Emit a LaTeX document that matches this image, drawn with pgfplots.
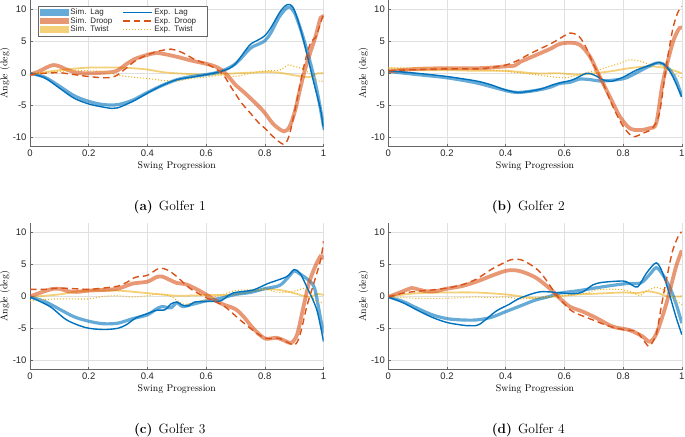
\documentclass[border=0pt]{standalone}
\usepackage{fontspec}
\setsansfont{Liberation Sans}
\usepackage{pgfplots}
\pgfplotsset{compat=1.18}
\definecolor{mblue}{rgb}{0,0.447,0.741}
\definecolor{mred}{rgb}{0.85,0.325,0.098}
\definecolor{myellow}{rgb}{0.929,0.694,0.125}
\definecolor{axgray}{rgb}{0.4,0.4,0.4}
\definecolor{grgray}{rgb}{0.88,0.88,0.88}
\pgfplotsset{
  golfer/.style={
    scale only axis, width=293.5bp, height=146.7bp,
    xmin=0, xmax=1, ymin=-11.5, ymax=11.5,
    xtick={0,0.2,0.4,0.6,0.8,1}, ytick={-10,-5,0,5,10},
    axis lines=left, axis line style={-, draw=axgray, line width=0.5bp},
    tick style={draw=axgray, line width=0.5bp}, tick align=inside, major tick length=2.5bp,
    grid=major, grid style={draw=grgray, line width=0.5bp},
    ticklabel style={font=\sffamily\fontsize{9.5bp}{10bp}\selectfont, text=black!85},
    /pgf/number format/assume math mode=true,
    xlabel={Swing Progression}, ylabel={Angle (deg)},
    label style={font=\fontsize{9.8bp}{11bp}\selectfont},
    xlabel style={at={(axis description cs:0.5,-0.1295)}, anchor=center},
    ylabel style={at={(axis description cs:-0.0852,0.5)}, anchor=center},
  },
  simlag/.style={color=mblue, opacity=0.6, line width=3.2bp, smooth, forget plot},
  simdroop/.style={color=mred, opacity=0.6, line width=3.8bp, smooth, forget plot},
  simtwist/.style={color=myellow, opacity=0.6, line width=1.8bp, smooth, forget plot},
  explag/.style={color=mblue, line width=1.4bp, smooth, forget plot},
  expdroop/.style={color=mred, line width=1.4bp, dash pattern=on 6.5bp off 4bp, smooth, forget plot},
  exptwist/.style={color=myellow, line width=1.1bp, dash pattern=on 1bp off 2bp, smooth, forget plot},
  simleg/.style={legend image code/.code={\fill[##1, draw=none] (0bp,-3.2bp) rectangle (28.6bp,3.2bp);}},
  expleg/.style={legend image code/.code={\draw[##1] (0bp,0bp) -- (29bp,0bp);}},
}
\newcommand{\subcap}[1]{\fontsize{13.5bp}{16bp}\selectfont #1}
\begin{document}
\begin{tikzpicture}[x=1bp,y=1bp]
\path[use as bounding box] (0,0) rectangle (685,437);

% ---------------- Golfer 1
\begin{axis}[golfer, at={(30bp,290.3bp)}, anchor=south west,
  legend columns=2, legend cell align=left,
  legend style={at={(axis description cs:0.026,0.959)}, anchor=north west,
    draw=axgray, line width=0.5bp, fill=white, text=black!85,
    font=\sffamily\fontsize{8bp}{9bp}\selectfont,
    inner xsep=2.5bp, inner ysep=2bp, row sep=0bp,
    nodes={inner xsep=1.5bp, inner ysep=0bp, text height=6.5bp, text depth=2bp},
    /tikz/column 2/.style={text width=42bp, column sep=8.5bp},
    /tikz/column 4/.style={text width=48.5bp}}]
\addlegendimage{color=mblue, opacity=0.6, simleg}\addlegendentry{Sim. Lag}
\addlegendimage{color=mblue, line width=1.4bp, expleg}\addlegendentry{Exp. Lag}
\addlegendimage{color=mred, opacity=0.6, simleg}\addlegendentry{Sim. Droop}
\addlegendimage{color=mred, line width=1.4bp, dash pattern=on 6.5bp off 4bp, expleg}\addlegendentry{Exp. Droop}
\addlegendimage{color=myellow, opacity=0.6, simleg}\addlegendentry{Sim. Twist}
\addlegendimage{color=myellow, line width=1.1bp, dash pattern=on 1bp off 2bp, expleg}\addlegendentry{Exp. Twist}
\addplot[simtwist] coordinates {(0,-0.2)(0.1,0.5)(0.2,0.9)(0.3,0.9)(0.35,0.8)(0.4,0.6)(0.45,0.2)(0.5,0.0)(0.6,-0.2)(0.7,0.0)(0.8,0.2)(0.85,0.1)(0.9,-0.3)(0.95,-0.6)(0.98,0.0)(1.0,0.0)};
\addplot[simlag] coordinates {(0,0)(0.05,-0.6)(0.1,-2.0)(0.15,-3.5)(0.2,-4.4)(0.25,-4.9)(0.3,-4.9)(0.35,-4.2)(0.4,-3.0)(0.45,-1.9)(0.5,-1.0)(0.55,-0.5)(0.6,-0.2)(0.65,0.3)(0.7,1.5)(0.75,3.9)(0.78,4.6)(0.8,5.1)(0.82,6.3)(0.85,8.9)(0.88,10.4)(0.9,9.6)(0.92,7.2)(0.94,4.2)(0.96,0.8)(0.98,-3.2)(1.0,-8.3)};
\addplot[simdroop] coordinates {(0,-0.2)(0.03,0.3)(0.06,1.0)(0.08,1.3)(0.1,1.1)(0.13,0.5)(0.16,0.1)(0.2,0.0)(0.25,0.1)(0.28,0.2)(0.3,0.5)(0.33,1.5)(0.36,2.3)(0.4,2.9)(0.43,3.2)(0.46,3.0)(0.5,2.6)(0.55,2.0)(0.6,1.5)(0.63,1.1)(0.66,0.3)(0.68,-0.7)(0.7,-1.8)(0.73,-3.0)(0.76,-4.3)(0.78,-5.2)(0.8,-6.2)(0.83,-8.0)(0.865,-9.1)(0.885,-8.3)(0.904,-5.7)(0.92,-2.5)(0.94,1.1)(0.973,5.8)(0.99,8.7)(1.0,8.8)};
\addplot[exptwist] coordinates {(0,0)(0.1,0.3)(0.15,0.5)(0.2,0.4)(0.25,0.3)(0.3,-0.3)(0.35,-0.6)(0.4,-0.8)(0.45,-1.1)(0.5,-1.2)(0.55,-0.8)(0.6,-0.6)(0.65,-0.3)(0.7,-0.5)(0.75,0.0)(0.8,0.4)(0.85,0.5)(0.88,1.3)(0.9,1.1)(0.93,0.7)(0.96,-0.3)(0.98,-1.2)(1.0,-1.2)};
\addplot[explag] coordinates {(0,0)(0.05,-0.7)(0.1,-2.3)(0.15,-3.9)(0.2,-4.8)(0.25,-5.3)(0.28,-5.5)(0.3,-5.4)(0.35,-4.4)(0.4,-3.1)(0.45,-1.9)(0.5,-1.0)(0.55,-0.6)(0.6,-0.2)(0.65,0.3)(0.68,0.8)(0.7,1.5)(0.72,2.7)(0.75,4.5)(0.78,5.3)(0.8,5.9)(0.82,7.1)(0.85,9.5)(0.87,10.6)(0.885,10.8)(0.9,10.0)(0.922,6.9)(0.944,2.9)(0.967,-1.5)(0.99,-5.7)(1.0,-8.9)};
\addplot[expdroop] coordinates {(0,-0.2)(0.05,0.0)(0.1,0.1)(0.15,-0.2)(0.2,-0.5)(0.25,-0.7)(0.28,-0.6)(0.3,-0.2)(0.33,0.9)(0.36,2.0)(0.4,2.9)(0.44,3.5)(0.48,3.8)(0.5,3.6)(0.53,3.0)(0.56,2.2)(0.6,1.5)(0.63,0.8)(0.66,-0.3)(0.68,-1.8)(0.7,-3.2)(0.72,-4.6)(0.75,-6.2)(0.78,-7.8)(0.8,-8.6)(0.83,-10.0)(0.862,-11.1)(0.877,-10.5)(0.89,-8.5)(0.91,-4.1)(0.933,1.1)(0.956,4.8)(0.973,5.6)(0.99,7.9)(1.0,9.2)};
\end{axis}

% ---------------- Golfer 2
\begin{axis}[golfer, at={(388.3bp,290.3bp)}, anchor=south west]
\addplot[simtwist] coordinates {(0,0.8)(0.1,0.5)(0.2,0.5)(0.3,0.4)(0.4,0.4)(0.5,0.0)(0.584,0.0)(0.652,-0.2)(0.754,0.3)(0.82,0.8)(0.89,1.1)(0.947,0.8)(1.0,0.0)};
\addplot[simlag] coordinates {(0,0.3)(0.1,-0.2)(0.2,-0.7)(0.3,-1.5)(0.4,-2.7)(0.44,-3.0)(0.5,-2.7)(0.55,-2.2)(0.584,-1.6)(0.62,-1.4)(0.652,-0.9)(0.69,-1.0)(0.72,-1.2)(0.76,-1.1)(0.811,-0.7)(0.879,0.9)(0.913,1.6)(0.935,1.5)(0.958,0.6)(0.98,-1.0)(1.0,-3.6)};
\addplot[simdroop] coordinates {(0,0.3)(0.1,0.7)(0.2,0.8)(0.3,0.8)(0.35,0.9)(0.4,1.1)(0.43,1.2)(0.45,1.8)(0.5,2.8)(0.55,3.8)(0.584,4.6)(0.62,4.8)(0.652,4.5)(0.686,2.7)(0.72,-0.5)(0.754,-3.6)(0.788,-6.7)(0.822,-8.6)(0.856,-8.9)(0.89,-8.6)(0.913,-7.8)(0.935,-1.5)(0.969,4.8)(0.992,7.1)(1.0,7.0)};
\addplot[exptwist] coordinates {(0,0.9)(0.1,0.9)(0.2,0.8)(0.3,0.6)(0.4,0.3)(0.5,-0.2)(0.55,-0.5)(0.6,-0.7)(0.65,-0.2)(0.72,0.6)(0.79,1.6)(0.82,2.1)(0.86,1.9)(0.89,1.4)(0.92,1.5)(0.95,0.6)(1.0,-0.7)};
\addplot[explag] coordinates {(0,0.4)(0.1,0.0)(0.2,-0.5)(0.3,-1.2)(0.35,-1.8)(0.4,-2.6)(0.448,-3.0)(0.516,-2.5)(0.56,-1.8)(0.584,-1.5)(0.629,-1.0)(0.675,0.0)(0.703,-0.3)(0.731,-1.0)(0.76,-1.25)(0.8,-0.6)(0.845,0.5)(0.89,1.25)(0.924,1.7)(0.947,1.1)(0.969,-0.5)(1.0,-3.7)};
\addplot[expdroop] coordinates {(0,0.4)(0.1,0.6)(0.2,0.7)(0.3,0.7)(0.35,0.9)(0.4,1.3)(0.44,2.0)(0.48,3.0)(0.52,3.9)(0.56,4.8)(0.6,5.9)(0.618,6.3)(0.645,6.0)(0.669,4.5)(0.697,1.6)(0.731,-1.5)(0.765,-5.2)(0.8,-8.3)(0.833,-9.9)(0.867,-9.4)(0.9,-8.6)(0.924,-6.2)(0.947,1.1)(0.969,6.9)(0.986,9.5)(1.0,10.5)};
\end{axis}

% ---------------- Golfer 3
\begin{axis}[golfer, at={(30bp,67.3bp)}, anchor=south west]
\addplot[simtwist] coordinates {(0,-0.1)(0.1,0.3)(0.15,0.7)(0.2,0.9)(0.3,0.9)(0.4,0.5)(0.5,0.1)(0.6,0.2)(0.7,0.3)(0.8,1.1)(0.85,1.0)(0.9,0.5)(0.95,-0.1)(0.98,0.4)(1.0,0.2)};
\addplot[simlag] coordinates {(0,-0.1)(0.05,-0.8)(0.1,-2.0)(0.15,-3.2)(0.2,-3.9)(0.25,-4.3)(0.3,-4.2)(0.35,-3.5)(0.4,-2.9)(0.43,-2.0)(0.45,-1.6)(0.48,-1.8)(0.5,-1.0)(0.52,-1.6)(0.55,-1.3)(0.6,-0.7)(0.65,-0.3)(0.7,0.3)(0.75,0.6)(0.8,1.2)(0.85,1.7)(0.88,3.0)(0.9,4.0)(0.92,3.5)(0.95,2.5)(0.97,1.2)(0.99,-3.5)(1.0,-5.8)};
\addplot[simdroop] coordinates {(0,0.0)(0.05,0.8)(0.08,1.2)(0.1,1.2)(0.13,0.8)(0.16,0.7)(0.2,0.9)(0.25,1.0)(0.3,1.2)(0.35,2.0)(0.4,2.3)(0.43,3.0)(0.45,3.1)(0.48,2.5)(0.5,2.1)(0.53,1.9)(0.56,1.3)(0.6,0.3)(0.63,-0.6)(0.66,-1.3)(0.7,-2.0)(0.73,-3.3)(0.76,-5.0)(0.8,-6.6)(0.84,-6.5)(0.87,-7.0)(0.89,-7.3)(0.91,-6.0)(0.93,-2.0)(0.95,2.0)(0.97,4.5)(0.99,6.3)(1.0,5.8)};
\addplot[exptwist] coordinates {(0,-0.7)(0.05,-0.5)(0.1,-0.4)(0.15,-0.4)(0.2,-0.4)(0.25,0.0)(0.3,0.1)(0.35,-0.1)(0.4,0.1)(0.44,0.4)(0.48,0.0)(0.52,-1.2)(0.55,-1.1)(0.6,-0.5)(0.65,0.2)(0.7,0.9)(0.75,1.0)(0.8,1.1)(0.85,0.6)(0.9,0.8)(0.94,1.2)(0.97,-0.6)(1.0,-1.0)};
\addplot[explag] coordinates {(0,-0.1)(0.068,-1.6)(0.125,-3.7)(0.19,-4.9)(0.25,-5.2)(0.3,-5.0)(0.33,-4.4)(0.36,-3.4)(0.4,-2.7)(0.43,-2.2)(0.46,-2.1)(0.48,-1.2)(0.5,-0.9)(0.52,-1.4)(0.54,-1.5)(0.56,-0.9)(0.6,-0.8)(0.65,-0.7)(0.69,0.5)(0.76,1.0)(0.81,2.0)(0.875,3.1)(0.9,4.2)(0.92,3.6)(0.943,1.5)(0.977,-2.1)(1.0,-7.1)};
\addplot[expdroop] coordinates {(0,1.1)(0.05,1.1)(0.1,1.3)(0.15,1.2)(0.2,1.1)(0.25,1.3)(0.3,1.6)(0.33,2.2)(0.36,3.0)(0.4,3.3)(0.44,4.4)(0.47,4.1)(0.5,3.1)(0.545,1.25)(0.6,-0.2)(0.66,-1.5)(0.716,-3.7)(0.773,-5.8)(0.807,-6.6)(0.85,-6.6)(0.9,-7.6)(0.92,-6.0)(0.943,-1.6)(0.96,1.0)(0.99,5.7)(1.0,8.7)};
\end{axis}

% ---------------- Golfer 4
\begin{axis}[golfer, at={(388.3bp,67.3bp)}, anchor=south west]
\addplot[simtwist] coordinates {(0,0)(0.1,0.5)(0.2,0.6)(0.3,0.6)(0.4,0.3)(0.45,0.0)(0.5,-0.3)(0.55,-0.1)(0.6,0.1)(0.65,0.3)(0.7,0.4)(0.8,0.6)(0.85,0.5)(0.88,0.8)(0.92,0.5)(0.95,0.0)(1.0,0.0)};
\addplot[simlag] coordinates {(0,-0.1)(0.05,-0.8)(0.1,-1.9)(0.15,-2.9)(0.2,-3.5)(0.25,-3.7)(0.3,-3.7)(0.35,-3.3)(0.4,-2.4)(0.45,-1.5)(0.5,-0.6)(0.55,0.0)(0.584,0.5)(0.65,0.9)(0.731,1.5)(0.811,2.0)(0.86,2.1)(0.89,3.4)(0.913,4.5)(0.935,3.4)(0.958,1.5)(0.98,-1.1)(1.0,-4.2)};
\addplot[simdroop] coordinates {(0,-0.1)(0.05,0.8)(0.08,1.3)(0.1,1.1)(0.13,0.8)(0.16,0.8)(0.2,1.2)(0.25,1.6)(0.3,2.3)(0.35,3.2)(0.4,4.0)(0.43,4.1)(0.46,3.8)(0.5,3.0)(0.53,2.0)(0.56,0.8)(0.584,-0.3)(0.618,-1.6)(0.663,-2.4)(0.709,-3.4)(0.765,-4.75)(0.822,-5.3)(0.867,-6.3)(0.89,-7.1)(0.913,-5.9)(0.947,-1.2)(0.98,4.6)(1.0,7.2)};
\addplot[exptwist] coordinates {(0,-0.1)(0.05,-0.2)(0.1,-0.3)(0.2,-0.3)(0.3,-0.1)(0.35,-0.2)(0.4,-0.1)(0.45,-0.4)(0.5,-0.2)(0.55,0.0)(0.6,0.1)(0.675,0.5)(0.709,1.0)(0.788,1.1)(0.833,0.6)(0.856,0.1)(0.879,0.8)(0.913,1.4)(0.947,0.8)(0.98,-0.6)(1.0,-1.3)};
\addplot[explag] coordinates {(0,-0.1)(0.05,-1.0)(0.1,-2.2)(0.15,-3.3)(0.2,-4.1)(0.25,-4.5)(0.278,-4.6)(0.31,-4.4)(0.368,-2.3)(0.41,-1.3)(0.448,-0.3)(0.516,0.7)(0.584,0.56)(0.629,0.4)(0.663,0.7)(0.697,1.8)(0.731,2.2)(0.8,2.4)(0.822,2.0)(0.85,1.5)(0.879,3.6)(0.913,5.25)(0.935,3.6)(0.958,0.3)(0.98,-3.2)(1.0,-6.0)};
\addplot[expdroop] coordinates {(0,-0.1)(0.05,0.5)(0.1,0.8)(0.15,1.0)(0.2,1.3)(0.25,1.8)(0.3,2.7)(0.35,4.2)(0.4,5.4)(0.425,5.8)(0.46,5.6)(0.516,3.85)(0.573,0.2)(0.6,-1.2)(0.629,-2.4)(0.697,-3.7)(0.754,-4.7)(0.811,-5.3)(0.845,-5.5)(0.873,-7.1)(0.89,-7.8)(0.913,-5.9)(0.93,-1.6)(0.947,2.5)(0.969,7.2)(0.992,9.8)(1.0,10.0)};
\end{axis}

\node[anchor=base] at (169.7,226.7) {\subcap{\textbf{(a)}\hspace{0.45em}Golfer 1}};
\node[anchor=base] at (528.3,226.7) {\subcap{\textbf{(b)}\hspace{0.45em}Golfer 2}};
\node[anchor=base] at (169.7,3.7) {\subcap{\textbf{(c)}\hspace{0.45em}Golfer 3}};
\node[anchor=base] at (528.3,3.7) {\subcap{\textbf{(d)}\hspace{0.45em}Golfer 4}};
\end{tikzpicture}
\end{document}
